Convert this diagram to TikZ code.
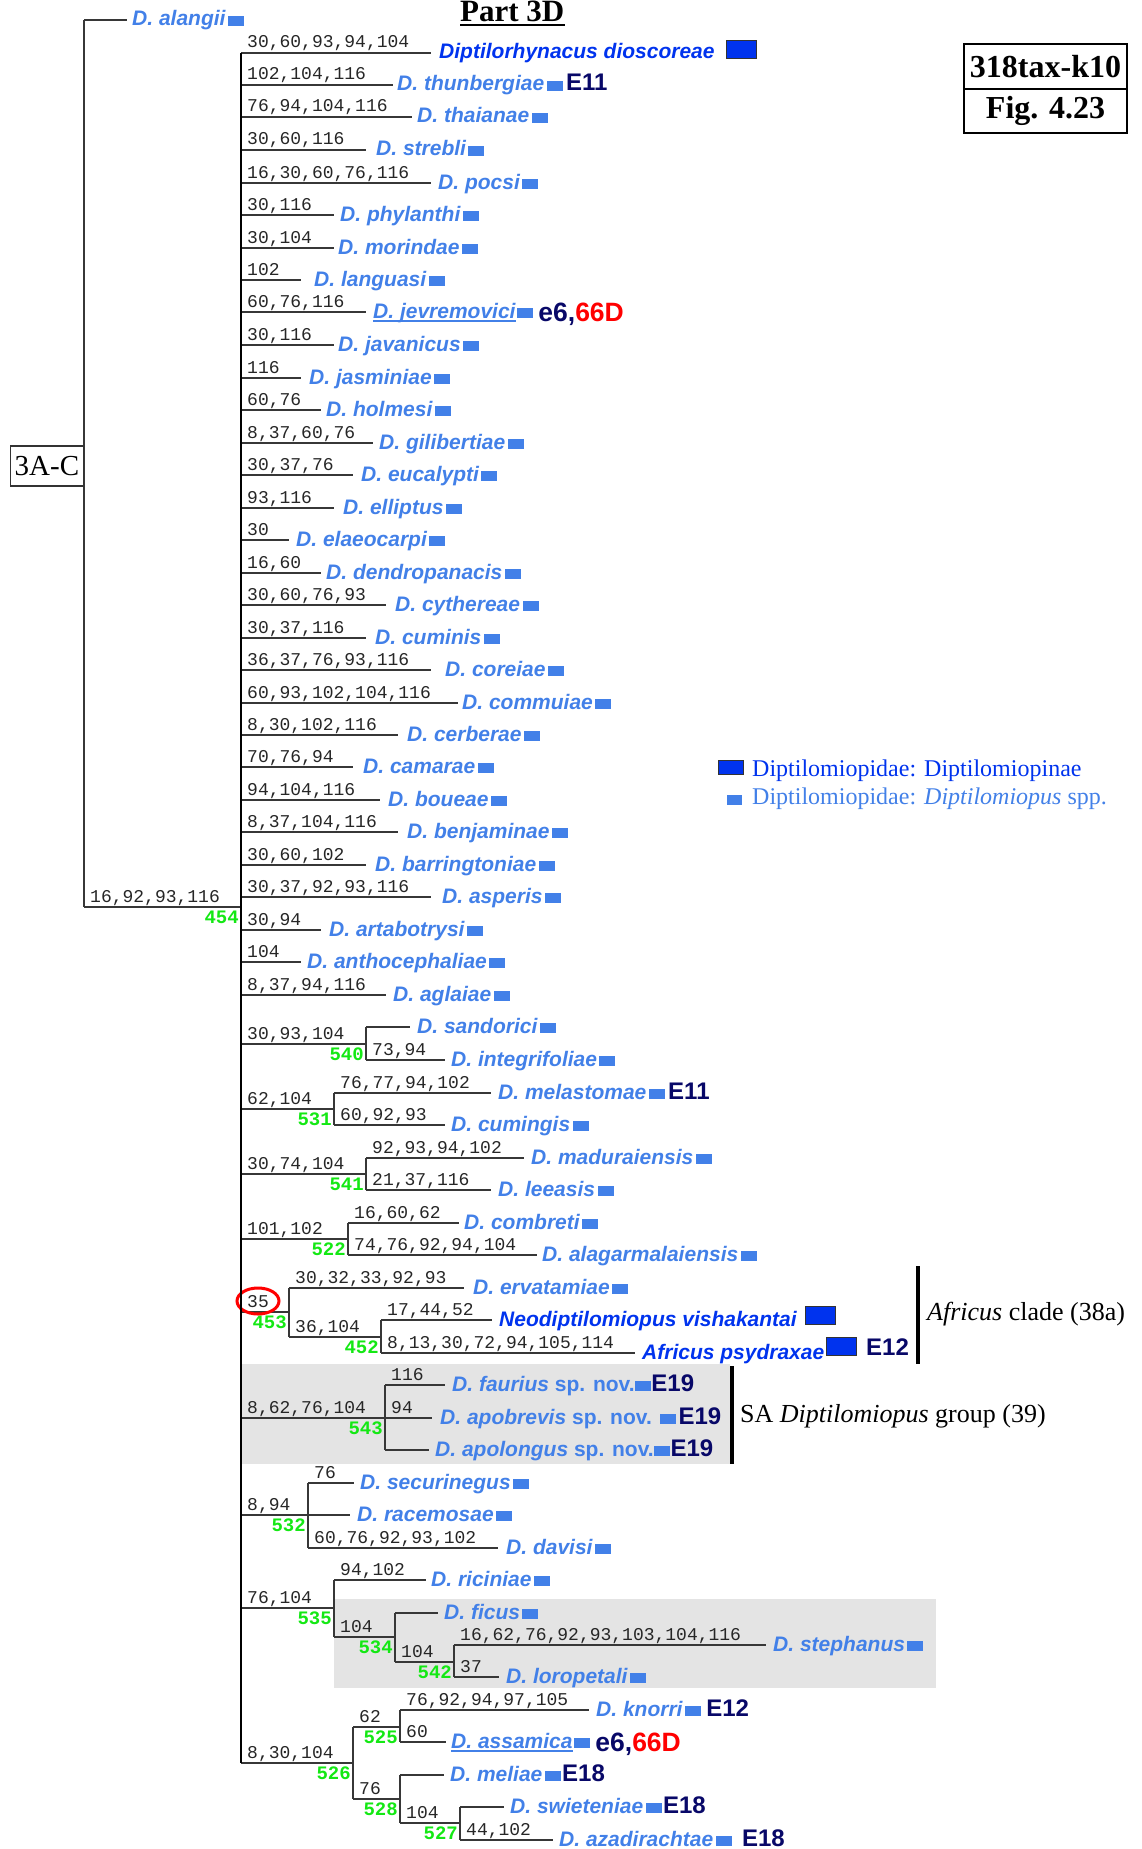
\documentclass[tikz,border=0pt]{standalone}
\usepackage{fontspec}
\setmainfont{Liberation Serif}
\setsansfont{Liberation Sans}
\setmonofont{Liberation Mono}
\usetikzlibrary{calc}

\definecolor{spblue}{RGB}{66,128,232}
\definecolor{dkblue}{RGB}{0,51,238}
\definecolor{navyE}{RGB}{8,8,104}
\definecolor{nodegreen}{RGB}{20,232,20}
\definecolor{groupgray}{RGB}{228,228,228}
\definecolor{lineclr}{RGB}{55,55,55}

\tikzset{
  br/.style={line width=1.4pt, draw=lineclr},
  brlab/.style={anchor=base west, inner sep=0pt, xshift=6pt, yshift=5pt,
    font=\ttfamily\fontsize{18}{18}\selectfont, text=black!85},
  glab/.style={anchor=base east, inner sep=0pt, xshift=-2pt, yshift=-16pt,
    font=\ttfamily\bfseries\fontsize{19}{19}\selectfont, text=nodegreen},
  taxon/.style={anchor=base west, inner sep=0pt,
    font=\sffamily\bfseries\itshape\fontsize{21}{21}\selectfont, text=spblue},
  dtaxon/.style={taxon, text=dkblue},
  lbox/.style={anchor=south west, inner sep=0pt, minimum width=16pt,
    minimum height=10pt, fill=spblue},
  bigbox/.style={anchor=south west, inner sep=0pt, minimum width=30pt,
    minimum height=18pt, fill=dkblue, draw=black!80, line width=1pt},
  elab/.style={anchor=base west, inner sep=0pt,
    font=\sffamily\bfseries\fontsize{24}{24}\selectfont, text=navyE},
  eslab/.style={elab, font=\sffamily\bfseries\fontsize{26.5}{26.5}\selectfont},
  serifnote/.style={anchor=base west, inner sep=0pt,
    font=\rmfamily\fontsize{26}{26}\selectfont, text=black},
}

% branch with a character-state label above it
\newcommand\edgeL[5]{%
  \coordinate (#1s) at (#2,#4);
  \coordinate (#1e) at (#3,#4);
  \draw[br] (#1s) -- (#1e);
  \node[brlab] (#1l) at (#1s) {#5};}
% branch without a label
\newcommand\edgeN[4]{%
  \coordinate (#1s) at (#2,#4);
  \coordinate (#1e) at (#3,#4);
  \draw[br] (#1s) -- (#1e);}
% node number under the end of a stem
\newcommand\gtag[2]{\node[glab] (#1g) at (#1e) {#2};}
% taxon name beside a branch tip
\newcommand\taxon[5][taxon]{\node[#1] (#2n) at (#3,#4+6) {#5};}
% small square after a name
\newcommand\tagbox[2][2]{\node[lbox] (#2b) at ([xshift=#1pt]#2n.base east) {};}
% bold code after the square
\newcommand\etag[3][3]{\node[elab] (#2x) at ([xshift=#1pt]#2b.south east) {#3};}
\newcommand\ecode[2]{\node[eslab] (#1x) at ([xshift=5pt,yshift=-3pt]#1b.south east)
  {{\color{navyE}e6,}{\color{red}66D}};}
\newcommand\undl[1]{\draw[spblue, line width=1.3pt]
  ([yshift=-3pt]#1n.base west) -- ([yshift=-3pt]#1n.base east);}

\begin{document}
\begin{tikzpicture}[x=1pt, y=-1pt]
\useasboundingbox (0,0) rectangle (1141,1849);

% shaded groups
\fill[groupgray] (241,1364) rectangle (730,1464);
\fill[groupgray] (334,1599) rectangle (936,1688);

% heading and figure tag
\node[anchor=base west, inner sep=0pt, font=\rmfamily\bfseries\fontsize{31}{31}\selectfont]
  (title) at (460,22) {Part 3D};
\draw[line width=2pt] ([yshift=-3pt]title.base west) -- ([yshift=-3pt]title.base east);
\node[draw, line width=2.5pt, minimum width=163pt, minimum height=45pt, inner sep=0pt,
  font=\rmfamily\bfseries\fontsize{32}{32}\selectfont] (figid) at (1045.5,66.5) {318tax-k10};
\node[draw, line width=2.5pt, minimum width=163pt, minimum height=44pt, inner sep=0pt,
  font=\rmfamily\bfseries\fontsize{32}{32}\selectfont] (fignum) at (1045.5,111) {Fig. 4.23};

% root
\edgeN{alan}{84}{127}{20}
\taxon{alan}{132}{20}{D. alangii}\tagbox{alan}
\edgeL{root}{84}{241}{907}{16,92,93,116}
\gtag{root}{454}
\draw[br] (alans) -- (roots);
\node[draw=black!80, line width=1.2pt, minimum width=73pt, minimum height=40pt, inner sep=0pt,
  anchor=east, font=\rmfamily\fontsize{29}{29}\selectfont] (grpAC) at (84,466) {3A-C};

% unresolved species on the main stem
\edgeL{dios}{241}{431}{53}{30,60,93,94,104}
\taxon[dtaxon]{dios}{439}{53}{Diptilorhynacus dioscoreae}
\node[bigbox] (diosb) at (726,59) {};
\edgeL{thun}{241}{393}{85}{102,104,116}
\taxon{thun}{397}{85}{D. thunbergiae}\tagbox{thun}\etag{thun}{E11}
\edgeL{thai}{241}{412}{117}{76,94,104,116}
\taxon{thai}{417}{117}{D. thaianae}\tagbox{thai}
\edgeL{strb}{241}{366}{150}{30,60,116}
\taxon{strb}{376}{150}{D. strebli}\tagbox{strb}
\edgeL{pocs}{241}{431}{183}{16,30,60,76,116}
\taxon{pocs}{438}{183}{D. pocsi}\tagbox{pocs}
\edgeL{phyl}{241}{334}{215}{30,116}
\taxon{phyl}{340}{215}{D. phylanthi}\tagbox{phyl}
\edgeL{mori}{241}{334}{248}{30,104}
\taxon{mori}{338}{248}{D. morindae}\tagbox{mori}
\edgeL{lang}{241}{301}{280}{102}
\taxon{lang}{314}{280}{D. languasi}\tagbox{lang}
\edgeL{jevr}{241}{366}{312}{60,76,116}
\taxon{jevr}{373}{312}{D. jevremovici}\tagbox[1]{jevr}\undl{jevr}\ecode{jevr}{}
\edgeL{java}{241}{334}{345}{30,116}
\taxon{java}{338}{345}{D. javanicus}\tagbox{java}
\edgeL{jasm}{241}{301}{378}{116}
\taxon{jasm}{309}{378}{D. jasminiae}\tagbox{jasm}
\edgeL{holm}{241}{321}{410}{60,76}
\taxon{holm}{326}{410}{D. holmesi}\tagbox{holm}
\edgeL{gili}{241}{373}{443}{8,37,60,76}
\taxon{gili}{379}{443}{D. gilibertiae}\tagbox{gili}
\edgeL{euca}{241}{353}{475}{30,37,76}
\taxon{euca}{361}{475}{D. eucalypti}\tagbox{euca}
\edgeL{elli}{241}{334}{508}{93,116}
\taxon{elli}{343}{508}{D. elliptus}\tagbox{elli}
\edgeL{elae}{241}{289}{540}{30}
\taxon{elae}{296}{540}{D. elaeocarpi}\tagbox{elae}
\edgeL{dend}{241}{321}{573}{16,60}
\taxon{dend}{326}{573}{D. dendropanacis}\tagbox{dend}
\edgeL{cyth}{241}{386}{605}{30,60,76,93}
\taxon{cyth}{395}{605}{D. cythereae}\tagbox{cyth}
\edgeL{cumi}{241}{366}{638}{30,37,116}
\taxon{cumi}{375}{638}{D. cuminis}\tagbox{cumi}
\edgeL{core}{241}{431}{670}{36,37,76,93,116}
\taxon{core}{445}{670}{D. coreiae}\tagbox{core}
\edgeL{comm}{241}{458}{703}{60,93,102,104,116}
\taxon{comm}{462}{703}{D. commuiae}\tagbox{comm}
\edgeL{cerb}{241}{398}{735}{8,30,102,116}
\taxon{cerb}{407}{735}{D. cerberae}\tagbox{cerb}
\edgeL{cama}{241}{353}{767}{70,76,94}
\taxon{cama}{363}{767}{D. camarae}\tagbox{cama}
\edgeL{boue}{241}{380}{800}{94,104,116}
\taxon{boue}{388}{800}{D. boueae}\tagbox{boue}
\edgeL{benj}{241}{398}{832}{8,37,104,116}
\taxon{benj}{407}{832}{D. benjaminae}\tagbox{benj}
\edgeL{barr}{241}{366}{865}{30,60,102}
\taxon{barr}{375}{865}{D. barringtoniae}\tagbox{barr}
\edgeL{aspe}{241}{431}{897}{30,37,92,93,116}
\taxon{aspe}{442}{897}{D. asperis}\tagbox{aspe}
\edgeL{arta}{241}{321}{930}{30,94}
\taxon{arta}{329}{930}{D. artabotrysi}\tagbox{arta}
\edgeL{anth}{241}{301}{962}{104}
\taxon{anth}{307}{962}{D. anthocephaliae}\tagbox{anth}
\edgeL{agla}{241}{386}{995}{8,37,94,116}
\taxon{agla}{393}{995}{D. aglaiae}\tagbox{agla}

% clade 540
\edgeL{c540}{241}{366}{1044}{30,93,104}\gtag{c540}{540}
\edgeN{sand}{366}{410}{1027}
\taxon{sand}{417}{1027}{D. sandorici}\tagbox{sand}
\edgeL{inte}{366}{445}{1060}{73,94}
\taxon{inte}{451}{1060}{D. integrifoliae}\tagbox{inte}
\draw[br] (sands) -- (intes);

% clade 531
\edgeL{c531}{241}{334}{1109}{62,104}\gtag{c531}{531}
\edgeL{mela}{334}{491}{1093}{76,77,94,102}
\taxon{mela}{498}{1093}{D. melastomae}\tagbox{mela}\etag{mela}{E11}
\edgeL{cumg}{334}{445}{1125}{60,92,93}
\taxon{cumg}{451}{1125}{D. cumingis}\tagbox{cumg}
\draw[br] (melas) -- (cumgs);

% clade 541
\edgeL{c541}{241}{366}{1174}{30,74,104}\gtag{c541}{541}
\edgeL{madu}{366}{524}{1158}{92,93,94,102}
\taxon{madu}{531}{1158}{D. maduraiensis}\tagbox{madu}
\edgeL{leea}{366}{491}{1190}{21,37,116}
\taxon{leea}{498}{1190}{D. leeasis}\tagbox{leea}
\draw[br] (madus) -- (leeas);

% clade 522
\edgeL{c522}{241}{348}{1239}{101,102}\gtag{c522}{522}
\edgeL{comb}{348}{459}{1223}{16,60,62}
\taxon{comb}{464}{1223}{D. combreti}\tagbox{comb}
\edgeL{alag}{348}{537}{1255}{74,76,92,94,104}
\taxon{alag}{542}{1255}{D. alagarmalaiensis}\tagbox{alag}
\draw[br] (combs) -- (alags);

% clade 453 (Africus clade)
\edgeL{c453}{241}{289}{1312}{35}\gtag{c453}{453}
\draw[red, line width=3pt] (258,1301) ellipse [x radius=21pt, y radius=13pt];
\edgeL{erva}{289}{464}{1288}{30,32,33,92,93}
\taxon{erva}{473}{1288}{D. ervatamiae}\tagbox{erva}
\edgeL{c452}{289}{381}{1337}{36,104}\gtag{c452}{452}
\draw[br] (ervas) -- (c452s);
\edgeL{neod}{381}{492}{1320}{17,44,52}
\taxon[dtaxon]{neod}{499}{1320}{Neodiptilomiopus vishakantai}
\node[bigbox] (neodb) at (805,1325) {};
\edgeL{afri}{381}{635}{1353}{8,13,30,72,94,105,114}
\taxon[dtaxon]{afri}{642}{1353}{Africus psydraxae}
\node[bigbox] (afrib) at (826,1356) {};
\node[elab] (afrix) at (866,1355) {E12};
\draw[br] (neods) -- (afris);
\coordinate (afbrT) at (918,1266);
\coordinate (afbrB) at (918,1364);
\draw[line width=4.5pt] (afbrT) -- (afbrB);
\node[serifnote] (aflab) at (927,1320) {\textit{Africus} clade (38a)};

% clade 543 (SA group)
\edgeL{c543}{241}{385}{1418}{8,62,76,104}\gtag{c543}{543}
\edgeL{faur}{385}{445}{1385}{116}
\taxon{faur}{452}{1385}{D. faurius {\upshape sp. nov.}}\tagbox[0]{faur}\etag[0]{faur}{E19}
\edgeL{apob}{385}{432}{1418}{94}
\taxon{apob}{440}{1418}{D. apobrevis {\upshape sp. nov.}}\tagbox[8]{apob}\etag[2]{apob}{E19}
\edgeN{apol}{385}{429}{1450}
\taxon{apol}{435}{1450}{D. apolongus {\upshape sp. nov.}}\tagbox[0]{apol}\etag[0]{apol}{E19}
\draw[br] (faurs) -- (apols);
\coordinate (sabrT) at (732,1366);
\coordinate (sabrB) at (732,1464);
\draw[line width=4.5pt] (sabrT) -- (sabrB);
\node[serifnote] (salab) at (740,1422) {SA \textit{Diptilomiopus} group (39)};

% clade 532
\edgeL{c532}{241}{308}{1515}{8,94}\gtag{c532}{532}
\edgeL{secu}{308}{354}{1483}{76}
\taxon{secu}{360}{1483}{D. securinegus}\tagbox{secu}
\edgeN{race}{308}{350}{1515}
\taxon{race}{357}{1515}{D. racemosae}\tagbox{race}
\edgeL{davi}{308}{498}{1548}{60,76,92,93,102}
\taxon{davi}{506}{1548}{D. davisi}\tagbox{davi}
\draw[br] (secus) -- (davis);

% clade 535
\edgeL{c535}{241}{334}{1608}{76,104}\gtag{c535}{535}
\edgeL{rici}{334}{426}{1580}{94,102}
\taxon{rici}{431}{1580}{D. riciniae}\tagbox{rici}
\edgeL{c534}{334}{395}{1637}{104}\gtag{c534}{534}
\draw[br] (ricis) -- (c534s);
\edgeN{ficu}{395}{438}{1613}
\taxon{ficu}{444}{1613}{D. ficus}\tagbox{ficu}
\edgeL{c542}{395}{454}{1662}{104}\gtag{c542}{542}
\draw[br] (ficus) -- (c542s);
\edgeL{stph}{454}{766}{1645}{16,62,76,92,93,103,104,116}
\taxon{stph}{773}{1645}{D. stephanus}\tagbox{stph}
\edgeL{loro}{454}{499}{1677}{37}
\taxon{loro}{506}{1677}{D. loropetali}\tagbox{loro}
\draw[br] (stphs) -- (loros);

% clade 526
\edgeL{c526}{241}{353}{1763}{8,30,104}\gtag{c526}{526}
\edgeL{c525}{353}{400}{1727}{62}\gtag{c525}{525}
\edgeL{c528}{353}{400}{1799}{76}\gtag{c528}{528}
\draw[br] (c525s) -- (c528s);
\edgeL{knor}{400}{589}{1710}{76,92,94,97,105}
\taxon{knor}{596}{1710}{D. knorri}\tagbox{knor}\etag[5]{knor}{E12}
\edgeL{assa}{400}{446}{1742}{60}
\taxon{assa}{451}{1742}{D. assamica}\tagbox[1]{assa}\undl{assa}\ecode{assa}{}
\draw[br] (knors) -- (assas);
\edgeN{meli}{400}{444}{1775}
\taxon{meli}{450}{1775}{D. meliae}\tagbox{meli}\etag[1]{meli}{E18}
\edgeL{c527}{400}{460}{1823}{104}\gtag{c527}{527}
\draw[br] (melis) -- (c527s);
\edgeN{swie}{460}{504}{1807}
\taxon{swie}{510}{1807}{D. swieteniae}\tagbox{swie}\etag[1]{swie}{E18}
\edgeL{azad}{460}{553}{1840}{44,102}
\taxon{azad}{559}{1840}{D. azadirachtae}\tagbox{azad}\etag[10]{azad}{E18}
\draw[br] (swies) -- (azads);

% main stem
\draw[line width=2pt, black] (dioss) -- (c526s);

% legend
\node[bigbox, minimum width=25pt, minimum height=14pt] (lg1b) at (718,775) {};
\node[anchor=base west, inner sep=0pt, font=\rmfamily\fontsize{24}{24}\selectfont, text=dkblue]
  (lg1) at (752,776) {Diptilomiopidae: Diptilomiopinae};
\node[lbox, minimum width=15pt] (lg2b) at (727,805) {};
\node[anchor=base west, inner sep=0pt, font=\rmfamily\fontsize{24}{24}\selectfont, text=spblue]
  (lg2) at (752,804) {Diptilomiopidae: \textit{Diptilomiopus} spp.};
\end{tikzpicture}
\end{document}
